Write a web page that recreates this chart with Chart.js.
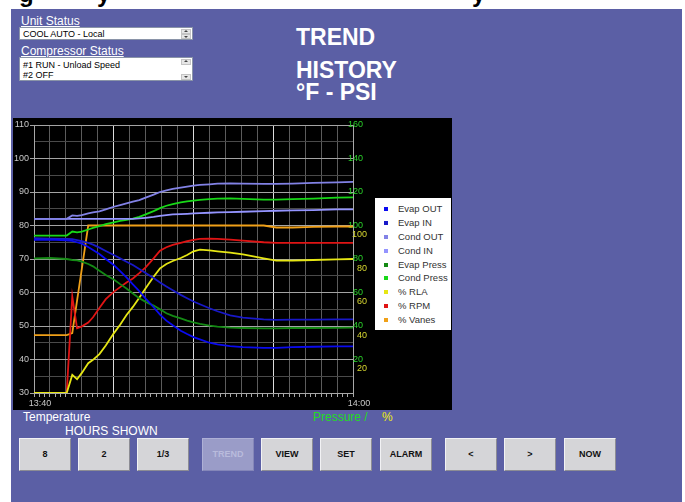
<!DOCTYPE html>
<html>
<head>
<meta charset="utf-8">
<script src="https://cdn.jsdelivr.net/npm/chart.js@4.4.1/dist/chart.umd.min.js"></script>
<style>
body{margin:0;width:685px;height:502px;overflow:hidden;background:#fff;position:relative;font-family:"Liberation Sans",Arial,sans-serif}
#fondo{position:absolute;left:11px;top:9px;width:671px;height:493px;background:#5b5fa5}
.corte{position:absolute;top:-18px;font:bold 24px "Liberation Sans",Arial,sans-serif;line-height:24px;color:#000}
.rotulo{position:absolute;color:#fff;font-size:12px;line-height:12px;white-space:nowrap}
.subr{text-decoration:underline}
.caja{position:absolute;left:19px;width:174px;background:#fff;border:1px solid #8a94a8;box-sizing:border-box;font:9px "Liberation Sans",Arial,sans-serif;color:#000;line-height:10px;padding:1px 0 0 3px}
.flecha{position:absolute;right:1px;width:10px;height:5px;background:#e6e6e6;border:1px solid #c4c4c4;box-sizing:border-box}
.flecha:after{content:"";position:absolute;left:2px;border-left:2px solid transparent;border-right:2px solid transparent}
.sube:after{top:0;border-bottom:2px solid #444}
.baja:after{top:1px;border-top:2px solid #444}
.titulo{position:absolute;left:296px;color:#fff;font:bold 23px "Liberation Sans",Arial,sans-serif;line-height:23px}
#marco{position:absolute;left:13px;top:118px;width:439px;height:292px;background:#000}
#grafico{position:absolute;left:0;top:0}
#leyenda{position:absolute;left:362px;top:80px;width:76px;height:132px;background:#fff;box-sizing:border-box;padding-top:4px}
#leyenda div{height:13.9px;line-height:13.9px;font-size:9.5px;color:#333;position:relative;padding-left:23px;white-space:nowrap}
#leyenda i{position:absolute;left:9px;top:5px;width:4px;height:4px}
.boton{position:absolute;top:438px;width:52px;height:33px;background:#d5d5d8;border:1px solid;border-color:#f2f2f4 #8c8c94 #8c8c94 #f2f2f4;box-sizing:border-box;font:bold 9px "Liberation Sans",Arial,sans-serif;line-height:31px;text-align:center;color:#111}
.apagado{background:#9a9cc8;border-color:#aeb0d6 #8486b8 #8486b8 #aeb0d6;color:#b9bbdc}
</style>
</head>
<body>
<div id="fondo"></div>
<span class="corte" style="left:19px">g</span>
<span class="corte" style="left:97px">y</span>
<span class="corte" style="left:472px">y</span>

<div class="rotulo subr" style="left:21px;top:15px">Unit Status</div>
<div class="caja" style="top:27px;height:13px">COOL AUTO - Local
  <span class="flecha sube" style="top:1px"></span><span class="flecha baja" style="top:6px"></span></div>
<div class="rotulo subr" style="left:21px;top:45px">Compressor Status</div>
<div class="caja" style="top:57px;height:24px;padding-top:2px">#1 RUN - Unload Speed<br>#2 OFF
  <span class="flecha sube" style="top:1px;height:6px"></span><span class="flecha baja" style="top:16px;height:6px"></span></div>

<div class="titulo" style="top:26px">TREND</div>
<div class="titulo" style="top:59px">HISTORY</div>
<div class="titulo" style="top:81px">°F - PSI</div>

<div id="marco">
  <canvas id="grafico" width="439" height="292"></canvas>
  <div id="leyenda"></div>
</div>

<div class="rotulo" style="left:23px;top:411px">Temperature</div>
<div class="rotulo" style="left:65px;top:425px">HOURS SHOWN</div>
<div class="rotulo" style="left:313px;top:411px;color:#22dd22">Pressure /</div>
<div class="rotulo" style="left:382px;top:411px;color:#eeee10">%</div>

<div class="boton" style="left:19px">8</div>
<div class="boton" style="left:78px">2</div>
<div class="boton" style="left:137px">1/3</div>
<div class="boton apagado" style="left:202px">TREND</div>
<div class="boton" style="left:261px">VIEW</div>
<div class="boton" style="left:320px">SET</div>
<div class="boton" style="left:380px">ALARM</div>
<div class="boton" style="left:445px">&lt;</div>
<div class="boton" style="left:504px">&gt;</div>
<div class="boton" style="left:564px">NOW</div>

<script>
// segundos desde 13:40
const tiempos = [0,60,123,144,162,180,204,222,246,270,300,324,348,372,396,420,450,474,498,522,552,576,600,624,660,690,738,786,864,912,972,1050,1140,1200];

// temperaturas (°F, eje izquierdo)
const evapOut = [75.7,75.8,75.6,75.4,75.0,74.6,73.6,72.7,71.5,70.0,68.2,66.4,64.5,62.4,60.4,58.2,55.6,53.4,51.6,50.2,48.6,47.6,46.7,46.0,45.0,44.5,44.0,43.7,43.5,43.5,43.7,43.8,43.9,43.9];
const evapIn = [76.2,76.1,76.0,75.9,75.6,75.3,74.8,74.3,73.4,72.4,71.2,70.2,69.2,68.2,67.0,65.8,64.3,63.0,61.8,60.7,59.3,58.3,57.3,56.5,55.3,54.4,53.2,52.5,52.0,51.8,51.9,51.9,52.0,52.0];
const condOut = [82.0,82.0,82.0,83.0,82.9,83.1,83.6,83.9,84.2,84.8,85.6,86.1,86.6,87.1,87.6,88.3,89.2,90.0,90.5,90.9,91.3,91.6,91.9,92.1,92.3,92.5,92.6,92.5,92.4,92.4,92.5,92.7,92.9,93.0];
const condIn = [82.0,82.0,82.0,82.0,82.0,82.0,82.0,82.0,82.0,82.0,82.0,82.0,82.0,82.0,82.1,82.3,82.6,82.9,83.1,83.3,83.4,83.5,83.6,83.7,83.8,83.9,84.0,84.1,84.3,84.4,84.5,84.6,84.8,84.8];

// presiones (PSI) y porcentajes, eje derecho
const evapPress = [80.4,80.6,80.0,79.4,79.2,78.4,77.0,75.6,73.0,70.4,67.8,65.0,62.4,59.4,56.6,54.4,52.2,50.0,47.6,46.0,44.6,43.2,42.2,41.2,40.2,39.6,39.0,38.8,38.6,38.6,38.8,38.8,38.9,39.0];
const condPress = [93.9,93.9,94.0,96.4,95.9,96.3,97.6,98.6,99.6,100.8,101.9,102.8,103.4,104.1,105.2,106.6,108.6,110.4,111.8,112.8,113.8,114.4,114.9,115.3,115.8,116.1,116.2,115.9,115.5,115.5,115.8,116.1,116.6,116.8];
const rla = [0,0,0,10.8,8.2,12.0,17.8,19.8,23.2,28.4,35.6,40.8,46.6,51.4,56.8,62.6,69.4,74.4,77.0,78.8,80.6,82.4,84.6,85.6,85.2,84.6,83.8,82.8,80.4,79.0,79.0,79.4,79.8,80.0];
const rpm = [0,0,0,57.6,38.6,39.8,42.0,45.2,50.8,56.0,60.4,63.2,66.0,68.4,71.6,75.0,80.4,85.0,87.0,88.4,89.6,90.6,91.4,92.0,92.2,92.0,91.6,91.0,90.0,89.6,89.6,89.6,89.6,89.6];
const vanes = [34.6,34.6,34.6,35.8,55.1,74.3,100,100,100,100,100,100,100,100,100,100,100,100,100,100,100,100,100,100,100,100,100,100,100,98.8,98.8,99.2,99.4,99.4];

const nombres = ['Evap OUT','Evap IN','Cond OUT','Cond IN','Evap Press','Cond Press','% RLA','% RPM','% Vanes'];
const valores = [evapOut,evapIn,condOut,condIn,evapPress,condPress,rla,rpm,vanes];
const colores = ['#0a0af0','#1818c8','#8282e6','#9494ff','#148a14','#18d818','#e6e614','#e01414','#f0a018'];
const ejes = ['y','y','y','y','yP','yP','yP','yP','yP'];

const etiquetasHora = ['13:40','14:00'];
const segundosHora = [0,1200];
const ticksPct = [20,40,60,80,100];

Chart.defaults.font.family = '"Liberation Sans", Arial, sans-serif';
Chart.defaults.font.size = 9;

let datasets = nombres.map((n,i)=>({
  label:n,
  data:tiempos.map((t,k)=>({x:t,y:valores[i][k]})),
  borderColor:colores[i],
  borderWidth:1.8,
  pointRadius:0,
  tension:0,
  yAxisID:ejes[i]
}));

let ticksX=[];
for(let s=0;s<=1200;s+=20) ticksX.push({value:s});
let ticksY=[];
for(let v=30;v<=110;v+=5) ticksY.push({value:v});

// ejes derechos sin ancho ni relleno propio: las etiquetas se dibujan en espejo
function sinAncho(s){ s.width=0; s.paddingTop=0; s.paddingBottom=0; }

new Chart(document.getElementById('grafico'),{
  type:'line',
  data:{datasets},
  options:{
    responsive:false,
    animation:false,
    layout:{padding:{top:7,right:99,left:0,bottom:0}},
    plugins:{legend:{display:false},tooltip:{enabled:false}},
    scales:{
      x:{
        type:'linear',min:0,max:1200,
        afterBuildTicks:s=>{s.ticks=ticksX.slice();},
        afterFit:s=>{s.height=17;},
        grid:{
          color:c=>{let v=c.tick.value; if(v===0||v===1200||v%60) return 'rgba(0,0,0,0)'; return v%300===0?'#dcdcdc':'#5c5c5c';},
          tickColor:'#a8a8a8',tickLength:4
        },
        border:{color:'#a8a8a8'},
        ticks:{autoSkip:false,maxRotation:0,color:'#c8c8c8',padding:1,labelOffset:6,
          callback:v=>{let i=segundosHora.indexOf(v); return i>=0?etiquetasHora[i]:'';}}
      },
      y:{
        position:'left',min:30,max:110,
        afterBuildTicks:s=>{s.ticks=ticksY.slice();},
        afterFit:s=>{s.width=21;},
        grid:{
          color:c=>c.tick.value%10===0?'#a4a4a4':'#4a4a4a',
          tickColor:c=>c.tick.value%10===0?'#a4a4a4':'rgba(0,0,0,0)',
          tickLength:4
        },
        border:{color:'#a8a8a8'},
        ticks:{color:'#c8c8c8',padding:1,callback:v=>v%10===0?v:''}
      },
      yP:{
        position:'right',min:0,max:160,
        afterFit:sinAncho,
        grid:{drawOnChartArea:false,drawTicks:false},
        border:{color:'#a8a8a8'},
        ticks:{stepSize:20,color:'#2ad22a',mirror:true,crossAlign:'near',padding:10,callback:v=>v===0?'':v}
      },
      yPct:{
        position:'right',min:5.4,max:165.4,
        afterBuildTicks:s=>{s.ticks=ticksPct.map(v=>({value:v}));},
        afterFit:sinAncho,
        grid:{drawOnChartArea:false,drawTicks:false},
        border:{display:false},
        ticks:{color:'#d6d630',mirror:true,crossAlign:'near',padding:14}
      }
    }
  }
});

let leyenda=document.getElementById('leyenda');
nombres.forEach((n,i)=>{
  let d=document.createElement('div');
  d.innerHTML='<i style="background:'+colores[i]+'"></i>'+n;
  leyenda.appendChild(d);
});
</script>
</body>
</html>
